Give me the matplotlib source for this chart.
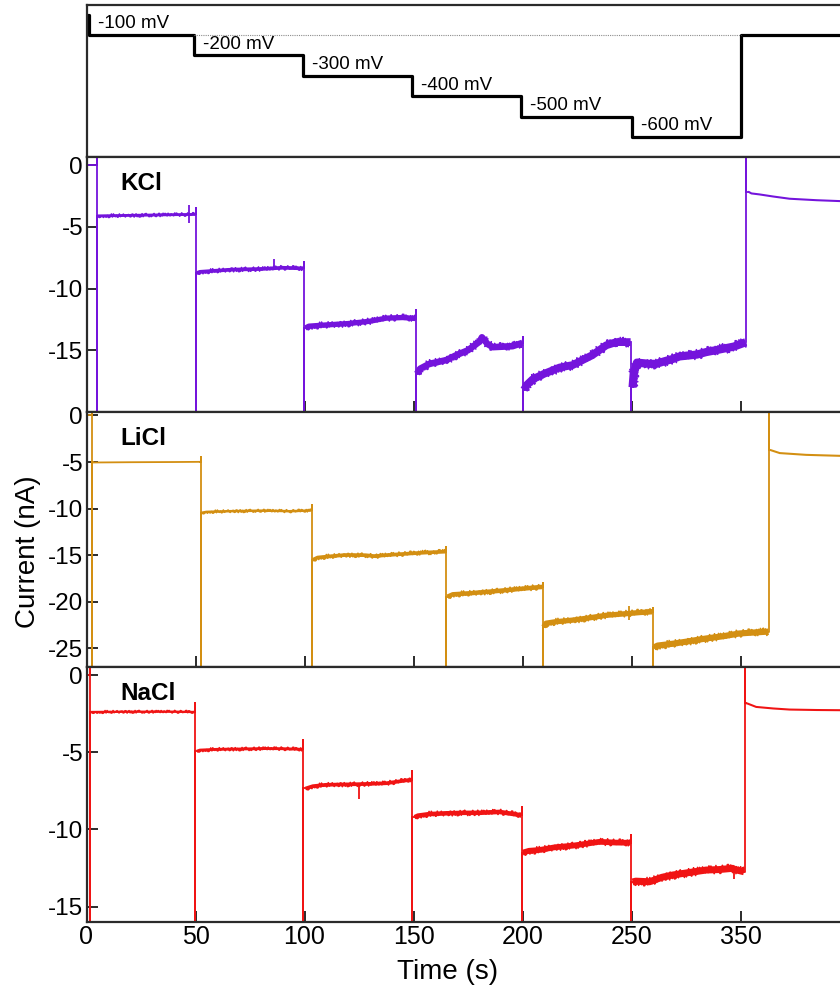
import matplotlib
matplotlib.use("Agg")
import matplotlib.pyplot as plt

plt.rcParams["font.family"] = ["Liberation Sans", "DejaVu Sans"]
plt.rcParams["axes.unicode_minus"] = False

# --- voltage protocol (top strip) ---
step_t = [0, 1.2, 49.5, 99.2, 149.5, 199.5, 250.0, 300.0, 360]
step_mv = [0, -100, -200, -300, -400, -500, -600, -100, -100]
step_labels = ["-100 mV", "-200 mV", "-300 mV", "-400 mV", "-500 mV", "-600 mV"]

# --- KCl current trace: plateaus between voltage steps ---
kcl_t = [
    [0, 4.6],
    [5.0, 20, 40, 50.0],
    [50.6, 52, 60, 67, 80, 90, 99.5],
    [100.4, 102, 110, 120, 130, 137.5, 145, 151.0],
    [151.6, 153, 157.3, 165, 169.6, 175, 180.3, 181.4, 184, 186.4, 195.5, 200.0],
    [200.7, 202, 204.7, 210, 217, 223, 232, 238.4, 243, 249.6],
    [250.5, 251, 252.5, 258, 261.3, 265, 269, 272, 280, 284.2, 290, 297, 302.4],
    [303.5, 305, 308.7, 315, 322.5, 335, 345.4, 360],
]
kcl_i = [
    [0, 0],
    [-4.12, -4.08, -4.02, -4.0],
    [-8.75, -8.65, -8.55, -8.47, -8.42, -8.32, -8.37],
    [-13.2, -13.05, -12.95, -12.84, -12.65, -12.4, -12.35, -12.43],
    [-16.9, -16.5, -16.1, -15.8, -15.4, -15.0, -14.3, -13.95, -14.5, -14.75, -14.67, -14.4],
    [-18.2, -17.8, -17.35, -16.9, -16.4, -16.2, -15.4, -14.6, -14.34, -14.34],
    [-18.0, -16.9, -16.0, -16.1, -16.1, -15.9, -15.7, -15.5, -15.35, -15.15, -14.95, -14.7, -14.35],
    [-2.15, -2.3, -2.38, -2.55, -2.73, -2.85, -2.92, -3.0],
]
kcl_jump_t = [4.9, 50.3, 99.8, 151.2, 200.3, 249.9, 302.7]
kcl_jump_hi = [3, -3.47, -7.87, -11.75, -13.9, None, 3]
kcl_jump_lo = [-40, -40, -40, -40, -40, -40, None]
kcl_band = [2, 3.5, 4.5, 6.5, 8, 9.5, 10, 2.5]
kcl_blip_t = [47.2, 85.8]
kcl_blip_lo = [-4.73, -8.4]
kcl_blip_hi = [-3.22, -7.6]

# --- LiCl current trace ---
licl_t = [
    [0, 2.4],
    [2.9, 20, 40, 52.1],
    [52.7, 55, 65, 80, 88.5, 93, 103.2],
    [103.8, 106, 115, 119, 128, 133, 134.4, 142, 149.6, 157, 164.8],
    [165.6, 168, 175, 180.3, 188, 195, 202, 209.1],
    [209.7, 210.8, 215, 223, 230, 238.4, 249.0, 254, 259.6],
    [260.3, 262, 269, 276, 284.2, 292, 299.5, 306, 312.8],
    [313.6, 314.2, 318, 325, 330.1, 345, 360],
]
licl_i = [
    [0, 0],
    [-5.05, -5.02, -5.0, -4.98],
    [-10.45, -10.35, -10.28, -10.22, -10.25, -10.28, -10.2],
    [-15.5, -15.25, -15.05, -14.98, -15.0, -15.12, -15.05, -14.92, -14.8, -14.7, -14.62],
    [-19.45, -19.2, -19.1, -19.0, -18.85, -18.7, -18.55, -18.4],
    [-22.7, -22.3, -22.15, -21.97, -21.75, -21.45, -21.25, -21.15, -21.07],
    [-24.9, -24.7, -24.5, -24.25, -23.94, -23.7, -23.4, -23.3, -23.2],
    [-3.7, -3.75, -4.04, -4.15, -4.23, -4.33, -4.42],
]
licl_jump_t = [2.6, 52.3, 103.4, 165.1, 209.3, 259.8, 313.1]
licl_jump_hi = [3, -4.47, -9.6, -14.1, -18.0, -20.7, 3]
licl_jump_lo = [-40, -40, -40, -40, -40, -40, None]
licl_band = [2, 2.2, 3, 4.5, 5.5, 6.5, 7.5, 2.5]
licl_blip_t = [249.0]
licl_blip_lo = [-22.0]
licl_blip_hi = [-20.5]

# --- NaCl current trace ---
nacl_t = [
    [0, 1.6],
    [2.1, 20, 40, 49.6],
    [50.6, 52, 60, 70, 82.4, 90, 99.3],
    [100.5, 103.8, 110, 124.8, 130, 137.5, 145.5, 149.2],
    [150.5, 152, 157.3, 165, 172.6, 180, 189.4, 196, 199.2],
    [200.1, 203, 207.8, 215, 223, 235.3, 243, 249.6],
    [250.5, 252, 258.3, 264, 269, 276, 284.2, 290, 296.4, 297.4, 301.6],
    [302.3, 303.2, 307.2, 315, 322.5, 335, 360],
]
nacl_i = [
    [0, 0],
    [-2.38, -2.36, -2.36, -2.38],
    [-4.92, -4.85, -4.8, -4.78, -4.75, -4.76, -4.8],
    [-7.34, -7.19, -7.1, -7.06, -7.04, -7.0, -6.84, -6.76],
    [-9.2, -9.1, -9.0, -8.95, -8.92, -8.92, -8.86, -9.0, -9.07],
    [-11.5, -11.38, -11.33, -11.15, -11.05, -10.8, -10.85, -10.86],
    [-13.4, -13.35, -13.39, -13.1, -12.95, -12.8, -12.63, -12.6, -12.52, -12.6, -12.74],
    [-1.8, -1.83, -2.05, -2.15, -2.22, -2.25, -2.28],
]
nacl_jump_t = [1.8, 49.8, 99.5, 149.4, 199.6, 249.8, 301.9]
nacl_jump_hi = [3, -1.8, -4.2, -6.22, -8.57, -10.36, 3]
nacl_jump_lo = [-40, -40, -40, -40, -40, -40, None]
nacl_band = [2.2, 2.8, 3.5, 4.5, 5.5, 7, 8.5, 2.5]
nacl_blip_t = [124.8, 296.9]
nacl_blip_lo = [-7.99, -13.2]
nacl_blip_hi = [-7.06, -12.5]

tick_pos = [0, 50, 100, 150, 200, 250, 300]
tick_txt = ["0", "50", "100", "150", "200", "250", "350"]

spine_c = "#2b2b2b"
PX = 0.72  # points per pixel at 100 dpi


def style_axes(ax):
    for s in ax.spines.values():
        s.set_linewidth(1.6)
        s.set_color(spine_c)
    ax.set_xlim(0, 360)


def draw_trace(ax, seg_t, seg_i, jump_t, jump_hi, jump_lo, band, blips, color):
    for k in range(len(seg_t)):
        # solid core of the noise band
        ax.plot(seg_t[k], seg_i[k], color=color, lw=max(1.3, band[k] * 0.82 * PX),
                solid_capstyle="butt")
        # ragged edges of the band
        if band[k] > 2.5:
            ln, = ax.plot(seg_t[k], seg_i[k], color=color, lw=1.1,
                          solid_capstyle="butt")
            ln.set_sketch_params(band[k] * 0.5, 0.6, 16)
    # capacitive spikes at each voltage step
    for k, tj in enumerate(jump_t):
        i_prev = seg_i[k][-1]
        i_next = seg_i[k + 1][0]
        xs = [seg_t[k][-1], tj]
        ys = [i_prev, i_prev]
        if jump_hi[k] is not None:
            xs.append(tj)
            ys.append(jump_hi[k])
        if jump_lo[k] is not None:
            xs.append(tj)
            ys.append(jump_lo[k])
        xs += [tj, seg_t[k + 1][0]]
        ys += [i_next, i_next]
        ax.plot(xs, ys, color=color, lw=1.3)
    bt, blo, bhi = blips
    ax.vlines(bt, blo, bhi, color=color, lw=1.3)


fig = plt.figure(figsize=(8.4, 9.93), dpi=100)
left = 86.5 / 840
width = 360 * 2.18 / 840

ax_v = fig.add_axes([left, 0.8419, width, 0.1531])
ax_k = fig.add_axes([left, 0.5851, width, 0.2568])
ax_l = fig.add_axes([left, 0.3283, width, 0.2568])
ax_n = fig.add_axes([left, 0.0715, width, 0.2568])

# voltage protocol
style_axes(ax_v)
ax_v.step(step_t, step_mv, where="post", color="black", lw=2.3)
ax_v.plot([step_t[2], step_t[7]], [-100, -100], color="#8c8c8c", lw=0.8,
          linestyle=(0, (1, 1)))
for k, lab in enumerate(step_labels):
    ax_v.annotate(lab, (step_t[k + 1], step_mv[k + 1]), xytext=(6.5, 8),
                  textcoords="offset points", ha="left", va="center",
                  fontsize=13.5)
ax_v.set_ylim(-698, 47)
ax_v.set_xticks([])
ax_v.set_yticks([])

panels = [
    (ax_k, "KCl", kcl_t, kcl_i, kcl_jump_t, kcl_jump_hi, kcl_jump_lo, kcl_band,
     (kcl_blip_t, kcl_blip_lo, kcl_blip_hi), "#7414dc", (-20, 0.65), [0, -5, -10, -15]),
    (ax_l, "LiCl", licl_t, licl_i, licl_jump_t, licl_jump_hi, licl_jump_lo, licl_band,
     (licl_blip_t, licl_blip_lo, licl_blip_hi), "#d38f12", (-27.0, 0.37),
     [0, -5, -10, -15, -20, -25]),
    (ax_n, "NaCl", nacl_t, nacl_i, nacl_jump_t, nacl_jump_hi, nacl_jump_lo, nacl_band,
     (nacl_blip_t, nacl_blip_lo, nacl_blip_hi), "#f01414", (-16.0, 0.54), [0, -5, -10, -15]),
]

for ax, name, st, si, jt, jh, jl, bd, bl, col, ylim, yt in panels:
    style_axes(ax)
    draw_trace(ax, st, si, jt, jh, jl, bd, bl, col)
    ax.set_ylim(*ylim)
    ax.set_yticks(yt)
    ax.set_yticklabels([str(v) for v in yt])
    ax.set_xticks(tick_pos)
    ax.tick_params(direction="in", length=8, width=1.4, color=spine_c,
                   labelsize=17.5, pad=2.5)
    ax.tick_params(axis="x", labelsize=18, pad=2)
    ax.text(0.043, 0.895, name, transform=ax.transAxes, ha="left", va="center",
            fontsize=17.5, fontweight="bold")
    if ax is ax_n:
        ax.set_xticklabels(tick_txt)
    else:
        ax.set_xticklabels([])

fig.text(28 / 840, 0.444, "Current (nA)", rotation=90, ha="center", va="center",
         fontsize=20)
fig.text(448 / 840, 0.021, "Time (s)", ha="center", va="center", fontsize=20)

fig.savefig("out.png", dpi=100)
